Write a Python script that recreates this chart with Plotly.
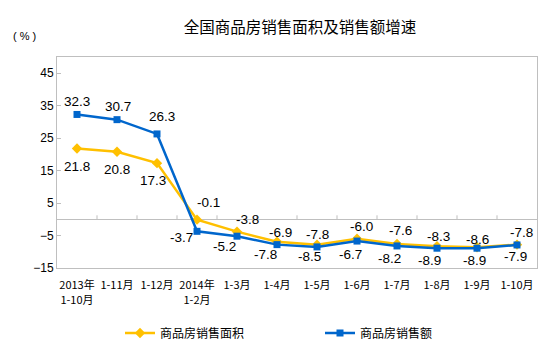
import plotly.graph_objects as go

categories = ["2013年<br>1-10月", "1-11月", "1-12月", "2014年<br>1-2月", "1-3月", "1-4月",
              "1-5月", "1-6月", "1-7月", "1-8月", "1-9月", "1-10月"]
area_growth = [21.8, 20.8, 17.3, -0.1, -3.8, -6.9, -7.8, -6.0, -7.6, -8.3, -8.6, -7.8]
sales_growth = [32.3, 30.7, 26.3, -3.7, -5.2, -7.8, -8.5, -6.7, -8.2, -8.9, -8.9, -7.9]
y_ticks = [-15, -5, 5, 15, 25, 35, 45]

# label pixel offsets (dx, dy) relative to each point
area_offsets = [(0, -18), (0, -18), (-4, -17), (11, 17), (10, 12), (3, 9),
                (0, 10), (4, 12), (3, 13), (1, 10), (0, 8), (4, 12)]
sales_offsets = [(0, 13), (1, 13), (5, 17), (-16, -6), (-13, -10), (-12, -10),
                 (-8, -10), (-7, -13), (-8, -13), (-8, -12), (-3, -12), (-2, -12)]

YELLOW = "#FFC000"
BLUE = "#0066CC"
GRAY = "#BFBFBF"
FONT = "Liberation Sans, Arial, Noto Sans CJK SC"
CJK = "Noto Sans CJK SC, Liberation Sans"

L, R, T, B = 57, 17, 57, 85
W, H = 554, 353
pw, ph = W - L - R, H - T - B

x_idx = list(range(len(categories)))

fig = go.Figure()
fig.add_trace(go.Scatter(
    x=x_idx, y=area_growth, mode="lines+markers", name="商品房销售面积",
    line=dict(color=YELLOW, width=2.5),
    marker=dict(symbol="diamond", size=8, color=YELLOW),
))
fig.add_trace(go.Scatter(
    x=x_idx, y=sales_growth, mode="lines+markers", name="商品房销售额",
    line=dict(color=BLUE, width=2.5),
    marker=dict(symbol="square", size=7, color=BLUE),
))

annotations = []
for vals, offs in ((area_growth, area_offsets), (sales_growth, sales_offsets)):
    for i, (v, (dx, dy)) in enumerate(zip(vals, offs)):
        annotations.append(dict(
            x=i, y=v, xref="x", yref="y", text=f"{v:.1f}", showarrow=False,
            xshift=dx, yshift=dy, font=dict(family=FONT, size=13.5, color="#000000"),
        ))

annotations.append(dict(
    x=(24 - L) / pw, y=(H - B - 36) / ph, xref="paper", yref="paper",
    xanchor="center", yanchor="middle", text="( % )", showarrow=False,
    font=dict(family=FONT, size=11, color="#000000"),
))

shapes = []
for i in range(len(categories) - 1):
    shapes.append(dict(
        type="line", xref="x", yref="y", x0=i + 0.5, x1=i + 0.5,
        ysizemode="pixel", yanchor=0, y0=0, y1=4,
        line=dict(color=GRAY, width=1),
    ))

fig.update_layout(
    width=W, height=H,
    margin=dict(l=L, r=R, t=T, b=B, autoexpand=False),
    paper_bgcolor="white", plot_bgcolor="white",
    title=dict(text="全国商品房销售面积及销售额增速", x=300 / W, xanchor="center",
               y=1 - 28 / H, yanchor="middle", xref="container", yref="container",
               font=dict(family=CJK, size=15.5, color="#000000")),
    showlegend=True,
    legend=dict(orientation="h", x=(120 - L) / pw, xanchor="left",
                y=(H - B - 333) / ph, yanchor="middle",
                font=dict(family=CJK, size=12, color="#000000"),
                entrywidth=155, entrywidthmode="pixels", bgcolor="rgba(0,0,0,0)"),
    annotations=annotations,
    shapes=shapes,
)
fig.update_xaxes(
    range=[-0.5, len(categories) - 0.5], tickmode="array", tickvals=x_idx, ticktext=categories,
    showline=True, linecolor=GRAY, linewidth=1, mirror=True, ticks="", showgrid=False,
    zeroline=False, tickfont=dict(family=CJK, size=11, color="#000000"),
    ticklabelstandoff=7, automargin=False,
)
fig.update_yaxes(
    range=[-15, 50], tickmode="array", tickvals=y_ticks,
    showline=True, linecolor=GRAY, linewidth=1, mirror=True,
    ticks="inside", ticklen=4, tickcolor=GRAY, showgrid=False,
    zeroline=True, zerolinecolor=GRAY, zerolinewidth=1,
    tickfont=dict(family=FONT, size=12, color="#000000"), automargin=False,
)

fig.write_html("out.html")
